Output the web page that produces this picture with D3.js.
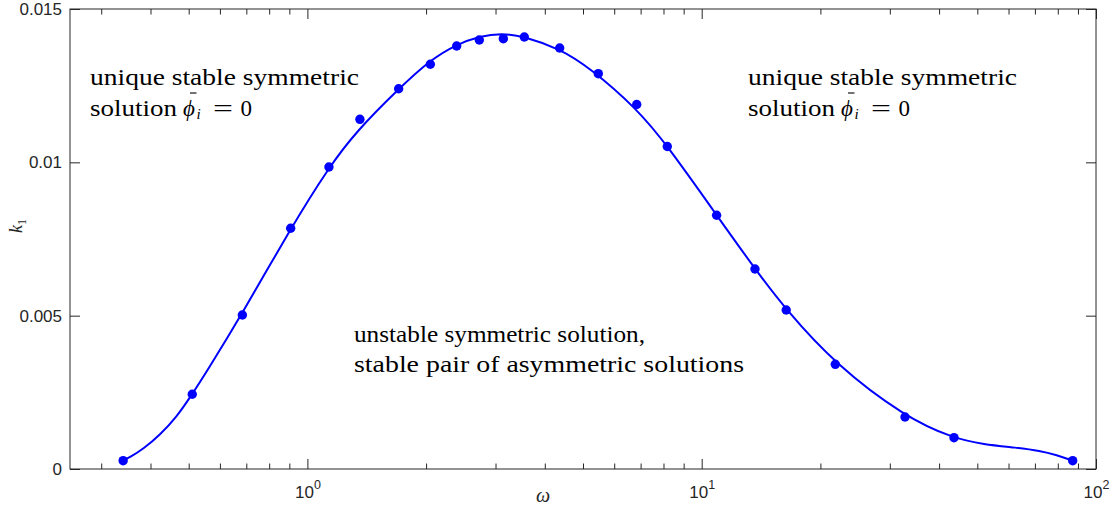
<!DOCTYPE html>
<html><head><meta charset="utf-8">
<script src="https://cdn.jsdelivr.net/npm/d3@7"></script>
<style>
body{margin:0;background:#fff} svg{display:block}
.serif{font-family:"Liberation Serif","Times New Roman",serif}
.sans{font-family:"Liberation Sans","DejaVu Sans",sans-serif}
</style>
</head><body>
<svg id="c" width="1114" height="508"></svg>
<script>
// ---- data ----
const curveOmega = [0.3412,0.3548,0.3835,0.4228,0.4662,0.5039,0.5555,0.6839,0.9071,1.1345,1.3336,1.7003,2.0464,2.3907,2.7398,3.1111,3.5284,4.3712,5.2083,6.8423,8.1809,10.916,13.651,16.381,21.826,32.777,43.640,51.806,62.937,72.111,79.50,87.29];
const curveK = [0.000277,0.000382,0.000652,0.001109,0.001705,0.002331,0.003180,0.005071,0.007849,0.009848,0.011023,0.012385,0.013337,0.013849,0.014120,0.014208,0.014120,0.013699,0.013076,0.011756,0.010549,0.008273,0.006522,0.005185,0.003414,0.001696,0.000995,0.000805,0.000695,0.000597,0.000457,0.000271];
const dotOmega = [0.341,0.5105,0.684,0.907,1.134,1.359,1.704,2.050,2.391,2.729,3.140,3.549,4.364,5.467,6.842,8.180,10.91,13.65,16.38,21.82,32.78,43.64,87.27];
const dotK = [0.000271,0.002436,0.005022,0.007849,0.009848,0.011403,0.012401,0.013197,0.013793,0.013989,0.014032,0.014087,0.013728,0.012891,0.011886,0.010516,0.008273,0.006522,0.005185,0.003414,0.001696,0.001021,0.000271];
const yTicks = [0, 0.005, 0.01, 0.015];
const yTickLabels = ["0", "0.005", "0.01", "0.015"];
const xMajorTicks = [1, 10, 100];
const xTickExponents = ["0", "1", "2"];
const xMinorTicks = [0.3,0.4,0.5,0.6,0.7,0.8,0.9,2,3,4,5,6,7,8,9,20,30,40,50,60,70,80,90];
const xLabelText = "ω";
const yLabelText = "k";
const yLabelSub = "1";
const noteTop = "unique stable symmetric";
const noteSol = "solution";
const notePhi = "ϕ";
const noteSub = "i";
const noteEq = "=";
const noteZero = "0";
const midLine1 = "unstable symmetric solution,";
const midLine2 = "stable pair of asymmetric solutions";

// ---- layout ----
const m = {l:70, r:1096, t:9, b:469};
const axisColor = "#262626";
const blue = "#0000ff";
const svg = d3.select("#c");
const x = d3.scaleLog().domain([0.25, 100]).range([m.l, m.r]);
const y = d3.scaleLinear().domain([0, 0.015]).range([m.b, m.t]);

function styleAxis(g){
  g.select(".domain").remove();
  g.attr("font-family", null).attr("font-size", null);
  g.selectAll("line").attr("stroke", axisColor).attr("stroke-width", 1);
  g.selectAll("text").attr("fill", axisColor).attr("class", "sans").style("font-size", "17px");
}

// bottom major
const gxb = svg.append("g").attr("transform", `translate(0,${m.b})`)
  .call(d3.axisBottom(x).tickValues(xMajorTicks).tickSize(-10).tickPadding(17).tickFormat(() => ""));
styleAxis(gxb);
gxb.selectAll(".tick text").each(function(d, i){
  const t = d3.select(this).attr("text-anchor","middle");
  t.text(null);
  t.append("tspan").text("10");
  t.append("tspan").attr("dy", -9).style("font-size", "12.5px").text(xTickExponents[i]);
});
const gxbm = svg.append("g").attr("transform", `translate(0,${m.b})`)
  .call(d3.axisBottom(x).tickValues(xMinorTicks).tickSize(-5.5).tickFormat(() => ""));
styleAxis(gxbm);
// top
const gxt = svg.append("g").attr("transform", `translate(0,${m.t})`)
  .call(d3.axisTop(x).tickValues(xMajorTicks).tickSize(-10).tickFormat(() => ""));
styleAxis(gxt);
const gxtm = svg.append("g").attr("transform", `translate(0,${m.t})`)
  .call(d3.axisTop(x).tickValues(xMinorTicks).tickSize(-5.5).tickFormat(() => ""));
styleAxis(gxtm);
// left
const gyl = svg.append("g").attr("transform", `translate(${m.l},0)`)
  .call(d3.axisLeft(y).tickValues(yTicks).tickSize(-10).tickPadding(8).tickFormat((d,i) => yTickLabels[i]));
styleAxis(gyl);
// right
const gyr = svg.append("g").attr("transform", `translate(${m.r},0)`)
  .call(d3.axisRight(y).tickValues(yTicks).tickSize(-10).tickFormat(() => ""));
styleAxis(gyr);

// box
svg.append("rect").attr("x", m.l).attr("y", m.t).attr("width", m.r - m.l).attr("height", m.b - m.t)
  .attr("fill", "none").attr("stroke", axisColor).attr("stroke-width", 1);

// axis labels
svg.append("text").attr("x", 543).attr("y", 502).attr("text-anchor", "middle").attr("class", "serif")
  .style("font-style", "italic").style("font-size", "20px").attr("fill", axisColor)
  .text(xLabelText);
const yl = svg.append("text").attr("transform", "translate(22,226) rotate(-90)").attr("text-anchor", "middle")
  .attr("class", "serif").style("font-size", "18px").attr("fill", axisColor);
yl.append("tspan").style("font-style", "italic").text(yLabelText);
yl.append("tspan").style("font-size", "12px").attr("dy", 4).text(yLabelSub);

// curve
const curveData = curveOmega.map((w, i) => ({w, k: curveK[i]}));
svg.append("path").datum(curveData)
  .attr("fill", "none").attr("stroke", blue).attr("stroke-width", 2)
  .attr("d", d3.line().x(d => x(d.w)).y(d => y(d.k)).curve(d3.curveBasis));

// dots
const dotData = dotOmega.map((w, i) => ({w, k: dotK[i]}));
svg.append("g").selectAll("circle").data(dotData).join("circle")
  .attr("cx", d => x(d.w)).attr("cy", d => y(d.k)).attr("r", 4.7).attr("fill", blue);

// annotations
function note(x0, base){
  const g = svg.append("g").attr("class", "serif").style("font-size", "23px").attr("fill", "#000");
  g.append("text").attr("x", x0).attr("y", base).attr("textLength", 269).attr("lengthAdjust", "spacingAndGlyphs").text(noteTop);
  const b2 = base + 30.5;
  g.append("text").attr("x", x0).attr("y", b2).attr("textLength", 87).attr("lengthAdjust", "spacingAndGlyphs").text(noteSol);
  g.append("text").attr("x", x0 + 93).attr("y", b2).style("font-style", "italic").text(notePhi);
  g.append("line").attr("x1", x0 + 100).attr("x2", x0 + 106.5).attr("y1", b2 - 22.5).attr("y2", b2 - 22.5)
    .attr("stroke", "#000").attr("stroke-width", 1.1);
  g.append("text").attr("x", x0 + 106.5).attr("y", b2 + 3).style("font-style", "italic").style("font-size", "15px").text(noteSub);
  g.append("text").attr("x", x0 + 123).attr("y", b2).attr("textLength", 20).attr("lengthAdjust", "spacingAndGlyphs").text(noteEq);
  g.append("text").attr("x", x0 + 150.5).attr("y", b2).text(noteZero);
}
note(90, 85);
note(748, 85);

const gm = svg.append("g").attr("class", "serif").style("font-size", "23px").attr("fill", "#000");
gm.append("text").attr("x", 354).attr("y", 341.5).attr("textLength", 291).attr("lengthAdjust", "spacingAndGlyphs").text(midLine1);
gm.append("text").attr("x", 354).attr("y", 371.5).attr("textLength", 390).attr("lengthAdjust", "spacingAndGlyphs").text(midLine2);
</script>
</body></html>
